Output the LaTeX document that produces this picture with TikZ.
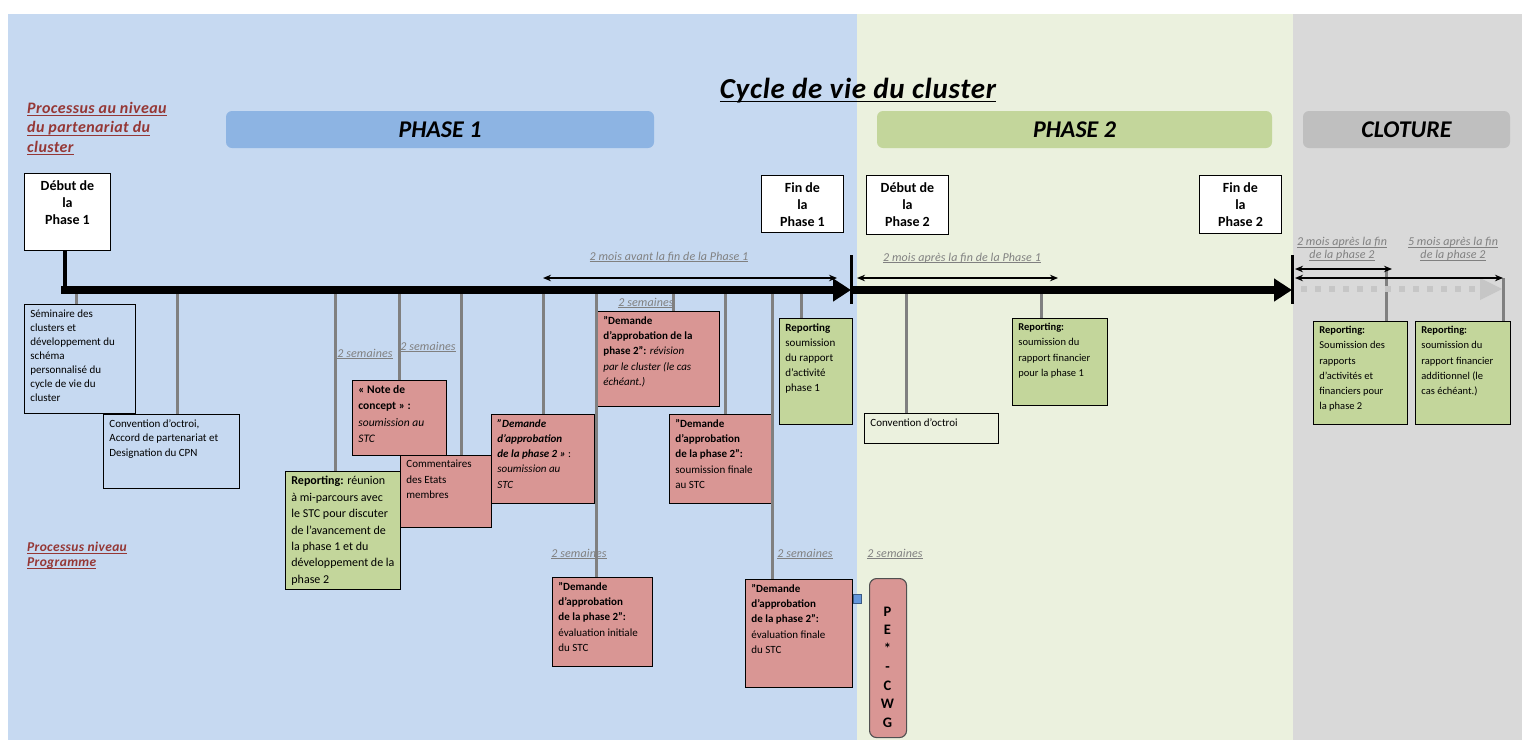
\documentclass[tikz,border=0pt]{standalone}
\usepackage{fontspec}
\setmainfont{Carlito}
\newfontfamily\hdfont[LetterSpace=2.5]{Carlito}
\newfontfamily\lblfont[LetterSpace=1]{Carlito}
\usetikzlibrary{arrows.meta}

\definecolor{bgBlue}{RGB}{198,217,241}
\definecolor{bgGreen}{RGB}{235,241,222}
\definecolor{bgGrey}{RGB}{217,217,217}
\definecolor{barBlue}{RGB}{141,180,227}
\definecolor{barGreen}{RGB}{195,214,155}
\definecolor{barGrey}{RGB}{191,191,191}
\definecolor{boxRed}{RGB}{217,150,148}
\definecolor{boxGreen}{RGB}{195,214,155}
\definecolor{lineGrey}{RGB}{128,128,128}
\definecolor{procRed}{RGB}{149,55,53}
\definecolor{dotGrey}{RGB}{198,198,198}
\definecolor{handleBlue}{RGB}{100,150,220}

% top aligned box texts: width, height, text
\newcommand{\bx}[3]{\parbox[c][#2][t]{#1}{\raggedright #3}}
\newcommand{\bxc}[3]{\parbox[c][#2][t]{#1}{\centering #3}}
% underline: thickness, drop, text
\newcommand{\uln}[3]{\setbox0=\hbox{#3}\leavevmode\rlap{\raisebox{-#2}{\rule{\wd0}{#1}}}\box0}

\begin{document}
\begin{tikzpicture}[x=1pt,y=1pt,yscale=-1,xscale=1,
	box/.style={draw=black, line width=0.8pt, anchor=north west, inner xsep=6pt, inner ysep=5pt, font=\fontsize{11}{15.2}\selectfont},
	redbox/.style={box, fill=boxRed},
	greenbox/.style={box, fill=boxGreen},
	mile/.style={draw=black, line width=0.9pt, fill=white, anchor=north west, inner xsep=3pt, inner ysep=7pt, font=\fontsize{14}{17}\selectfont\bfseries},
	phasebar/.style={rounded corners=6pt, minimum height=37pt, inner sep=0pt, font=\fontsize{24}{28}\selectfont\bfseries\itshape},
	conn/.style={draw=lineGrey, line width=3pt},
	span/.style={draw=black, line width=1.3pt, {Stealth[length=8pt,width=6.5pt]}-{Stealth[length=8pt,width=6.5pt]}},
	timeline/.style={draw=black, line width=8pt, -{Triangle[length=18pt,width=22pt]}},
	gap/.style={font=\lblfont\fontsize{12}{13}\selectfont\itshape, text=lineGrey, inner sep=0pt, align=center},
	proc/.style={anchor=north west, inner sep=0pt, align=left, text=procRed}
	]
	\useasboundingbox (0,0) rectangle (1526,740);
	\fill[white] (0,0) rectangle (1526,740);
	
	%Shape: Rectangle [backgrounds]
	\fill[bgBlue] (8,14) rectangle (857,740);
	\fill[bgGreen] (857,14) rectangle (1293,740);
	\fill[bgGrey] (1293,14) rectangle (1522,740);
	
	% Text Node
	\node (title) at (858,91) {\hdfont\fontsize{29}{34}\selectfont\bfseries\itshape\uln{1.8pt}{3.5pt}{Cycle de vie du cluster}};
	\node[phasebar, fill=barBlue, minimum width=428pt] (ph1) at (440,129.5) {PHASE 1};
	\node[phasebar, fill=barGreen, minimum width=395pt] (ph2) at (1074.5,129.5) {PHASE 2};
	\node[phasebar, fill=barGrey, minimum width=207pt] (clo) at (1406.5,129.5) {CLOTURE};
	\node[proc, font=\hdfont\fontsize{16}{19.5}\selectfont\bfseries\itshape] (procA) at (27,102) {\uln{1.1pt}{2.8pt}{Processus au niveau}\\\uln{1.1pt}{2.8pt}{du partenariat du}\\\uln{1.1pt}{2.8pt}{cluster}};
	\node[proc, font=\hdfont\fontsize{13.5}{15}\selectfont\bfseries\itshape] (procB) at (27,542) {\uln{1pt}{2.4pt}{Processus niveau}\\\uln{1pt}{2.4pt}{Programme}};
	
	%Shape: Rectangle [milestones]
	\node[mile] (debut1) at (24,173) {\bxc{80pt}{63pt}{Début de\\la\\Phase 1}};
	\node[mile] (fin1) at (761,175) {\bxc{76pt}{43pt}{Fin de\\la\\Phase 1}};
	\node[mile] (debut2) at (866,175) {\bxc{76pt}{45pt}{Début de\\la\\Phase 2}};
	\node[mile] (fin2) at (1199,175) {\bxc{76pt}{44pt}{Fin de\\la\\Phase 2}};
	
	% points on the time line
	\coordinate (t0) at (65,290);
	\coordinate (tP1) at (851,290);
	\coordinate (tP2) at (1292,290);
	\coordinate (c1) at (76,290);
	\coordinate (c2) at (177,290);
	\coordinate (c3) at (335,290);
	\coordinate (c4) at (399,290);
	\coordinate (c5) at (461,290);
	\coordinate (c6) at (543,290);
	\coordinate (c7) at (596,290);
	\coordinate (c8) at (673,290);
	\coordinate (c9) at (725,290);
	\coordinate (c10) at (772,290);
	\coordinate (c11) at (801,290);
	\coordinate (c12) at (906,290);
	\coordinate (c13) at (1041,290);
	\coordinate (c14) at (1386,269);
	\coordinate (c15) at (1503,278);
	
	%Shape: Rectangle [boxes]
	\node[box] (sem) at (24,304) {\bx{99pt}{99pt}{\baselineskip=14pt Séminaire des\\clusters et\\développement du\\schéma\\personnalisé du\\cycle de vie du\\cluster}};
	\node[box] (conv) at (103,414) {\bx{124pt}{64pt}{\baselineskip=14.5pt Convention d'octroi,\\Accord de partenariat et\\Designation du CPN}};
	\node[greenbox, font=\fontsize{12}{16.4}\selectfont] (rep1) at (285,471) {\bx{103pt}{108pt}{{\bfseries Reporting:} réunion\\à mi-parcours avec\\le STC pour discuter\\de l'avancement de\\la phase 1 et du\\développement de la\\phase 2}};
	\node[redbox, font=\fontsize{11.5}{16.5}\selectfont] (note) at (352,380) {\bx{82pt}{65pt}{{\bfseries « Note de\\concept » :}\\\itshape soumission au\\STC}};
	\node[redbox] (comm) at (400,455) {\bx{79pt}{62pt}{Commentaires\\des Etats\\membres}};
	\node[redbox] (dem1) at (491,414) {\bx{91pt}{79pt}{{\bfseries\itshape "Demande\\d'approbation\\de la phase 2 »} :\\\itshape soumission au\\STC}};
	\node[redbox] (demrev) at (597,311) {\bx{110pt}{85pt}{{\bfseries "Demande\\d'approbation de la\\phase 2":} {\itshape révision\\par le cluster (le cas\\échéant.)}}};
	\node[redbox] (demfin) at (669,414) {\bx{90pt}{79pt}{{\bfseries "Demande\\d'approbation\\de la phase 2":}\\soumission finale\\au STC}};
	\node[redbox] (demini) at (552,577) {\bx{88pt}{79pt}{{\bfseries "Demande\\d'approbation\\de la phase 2":}\\évaluation initiale\\du STC}};
	\node[redbox] (demevf) at (745,579) {\bx{95pt}{98pt}{{\bfseries "Demande\\d'approbation\\de la phase 2":}\\évaluation finale\\du STC}};
	\node[greenbox] (rep2) at (779,318) {\bx{61pt}{96pt}{{\bfseries Reporting}\\soumission\\du rapport\\d'activité\\phase 1}};
	\node[box] (conv2) at (864,413) {\bx{122pt}{20pt}{Convention d'octroi}};
	\node[greenbox, font=\fontsize{10.5}{15.2}\selectfont] (rep3) at (1012,318) {\bx{83pt}{77pt}{{\bfseries Reporting:}\\soumission du\\rapport financier\\pour la phase 1}};
	\node[greenbox, font=\fontsize{10.5}{15.2}\selectfont] (rep4) at (1313,321) {\bx{82pt}{93pt}{{\bfseries Reporting:}\\Soumission des\\rapports\\d'activités et\\financiers pour\\la phase 2}};
	\node[greenbox, font=\fontsize{10.5}{15.2}\selectfont] (rep5) at (1415,321) {\bx{83pt}{93pt}{{\bfseries Reporting:}\\soumission du\\rapport financier\\additionnel (le\\cas échéant.)}};
	\node[draw={rgb,255:red,80;green,80;blue,80}, fill=boxRed, line width=1.1pt, rounded corners=7pt, anchor=north west, minimum width=37pt, minimum height=159pt] (pecwg) at (869,578) {};
	\node[font=\fontsize{14.5}{18.5}\selectfont\bfseries, align=center, inner sep=0pt] (pelbl) at (887.5,667) {P\\E\\*\\-\\C\\W\\G};
	
	%Straight Lines [connectors]
	\draw[line width=4pt] (debut1.south -| t0) -- (t0);
	\draw[conn] (c1) -- (c1 |- sem.north);
	\draw[conn] (c2) -- (c2 |- conv.north);
	\draw[conn] (c3) -- (c3 |- rep1.north);
	\draw[conn] (c4) -- (c4 |- note.north);
	\draw[conn] (c5) -- (c5 |- comm.north);
	\draw[conn] (c6) -- (c6 |- dem1.north);
	\draw[conn] (c7) -- (c7 |- demini.north);
	\draw[conn] (c8) -- (c8 |- demrev.north);
	\draw[conn] (c9) -- (c9 |- demfin.north);
	\draw[conn] (c10) -- (c10 |- demevf.north);
	\draw[conn] (c11) -- (c11 |- rep2.north);
	\draw[conn] (c12) -- (c12 |- conv2.north);
	\draw[conn] (c13) -- (c13 |- rep3.north);
	\draw[conn] (c14) -- (c14 |- rep4.north);
	\draw[conn] (c15) -- (c15 |- rep5.north);
	
	%Straight Lines [time line]
	\draw[timeline] (61,290) -- (tP1);
	\draw[timeline] (tP1) -- (tP2);
	\draw[line width=3pt] (851,255) -- (851,304);
	\draw[line width=3pt] (1292,255) -- (1292,304);
	\draw[dotGrey, line width=6pt, dash pattern=on 6pt off 8pt] (1301,289) -- (1476,289);
	\fill[dotGrey] (1480,278) -- (1502,289) -- (1480,300) -- cycle;
	
	%Straight Lines [durations]
	\coordinate (s1a) at (543,278);
	\coordinate (s1b) at (837,278);
	\coordinate (s2a) at (857,278);
	\coordinate (s2b) at (1058,278);
	\coordinate (s3a) at (1295,269);
	\coordinate (s3b) at (1392,269);
	\coordinate (s4a) at (1295,278);
	\coordinate (s4b) at (1503,278);
	\draw[span] (s1a) -- (s1b);
	\draw[span] (s2a) -- (s2b);
	\draw[span] (s3a) -- (s3b);
	\draw[span] (s4a) -- (s4b);
	
	% Text Node
	\node[gap] (m1) at (669,257) {\uln{0.8pt}{2pt}{2 mois avant la fin de la Phase 1}};
	\node[gap] (m2) at (962,258) {\uln{0.8pt}{2pt}{2 mois après la fin de la Phase 1}};
	\node[gap] (m3) at (1342,249) {\uln{0.8pt}{2pt}{2 mois après la fin}\\\uln{0.8pt}{2pt}{de la phase 2}};
	\node[gap] (m4) at (1453,249) {\uln{0.8pt}{2pt}{5 mois après la fin}\\\uln{0.8pt}{2pt}{de la phase 2}};
	\node[gap] (w1) at (365,354) {\uln{0.8pt}{2pt}{2 semaines}};
	\node[gap] (w2) at (428,347) {\uln{0.8pt}{2pt}{2 semaines}};
	\node[gap] (w3) at (646,303) {\uln{0.8pt}{2pt}{2 semaines}};
	\node[gap] (w4) at (579,554) {\uln{0.8pt}{2pt}{2 semaines}};
	\node[gap] (w5) at (805,554) {\uln{0.8pt}{2pt}{2 semaines}};
	\node[gap] (w6) at (895,554) {\uln{0.8pt}{2pt}{2 semaines}};
	
	%Shape: Square [handle]
	\draw[fill=handleBlue, draw=handleBlue!60!black, line width=0.4pt] (853,594) rectangle (861,603);
\end{tikzpicture}
\end{document}
